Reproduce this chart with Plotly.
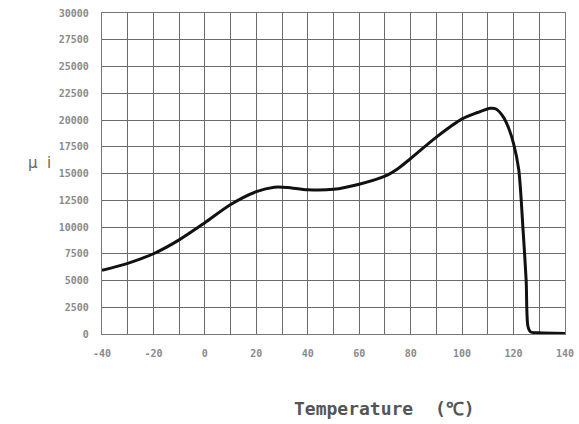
import plotly.graph_objects as go

temperature = [-40, -30, -20, -10, 0, 10, 20, 27, 32, 40, 50, 60, 70, 75, 80, 90, 100, 106, 111, 113, 116, 118, 120, 122, 123.7, 124.9, 125.6, 126.6, 130, 140]
mu_i = [5950, 6600, 7500, 8800, 10400, 12100, 13300, 13720, 13700, 13480, 13520, 14000, 14750, 15450, 16400, 18400, 20100, 20700, 21100, 21050, 20300, 19300, 17800, 15400, 9700, 5000, 700, 200, 120, 50]

x_tickvals = list(range(-40, 141, 10))
x_ticktext = ["-40", "", "-20", "", "0", "", "20", "", "40", "", "60", "", "80", "", "100", "", "120", "", "140"]
y_tickvals = list(range(0, 30001, 2500))
y_ticktext = ["0", "2500", "5000", "7500", "10000", "12500", "15000", "17500", "20000", "22500", "25000", "27500", "30000"]

fig = go.Figure()
fig.add_trace(go.Scatter(
    x=temperature, y=mu_i, mode="lines",
    line=dict(color="#111111", width=3, shape="spline", smoothing=0.8),
    showlegend=False, hoverinfo="skip",
))

axis_common = dict(
    showgrid=True, gridcolor="#6a6a6a", gridwidth=1.4,
    showline=True, linecolor="#777777", linewidth=1.2, mirror=True,
    zeroline=False, ticks="", automargin=False,
    tickfont=dict(family="DejaVu Sans Mono", size=10, color="#8a8a8a", weight="bold"),
)

fig.update_xaxes(range=[-40, 140], tickvals=x_tickvals, ticktext=x_ticktext, ticklabelstandoff=10, **axis_common)
fig.update_yaxes(range=[0, 30000], tickvals=y_tickvals, ticktext=y_ticktext, ticklabelstandoff=10, **axis_common)

fig.add_annotation(
    text="<b>Temperature  (℃)</b>", xref="paper", yref="paper",
    x=(384 - 102) / 463, y=-(408 - 334) / 321, xanchor="center", yanchor="middle",
    showarrow=False, font=dict(family="DejaVu Sans Mono", size=18, color="#555555"),
)
fig.add_annotation(
    text="μ  i", xref="paper", yref="paper",
    x=-(102 - 40) / 463, y=(334 - 163) / 321, xanchor="center", yanchor="middle",
    showarrow=False, font=dict(family="DejaVu Sans", size=15, color="#666666"),
)

fig.update_layout(
    width=579, height=424,
    margin=dict(l=102, r=14, t=13, b=90),
    paper_bgcolor="white", plot_bgcolor="white",
)

fig.write_html("out.html")
